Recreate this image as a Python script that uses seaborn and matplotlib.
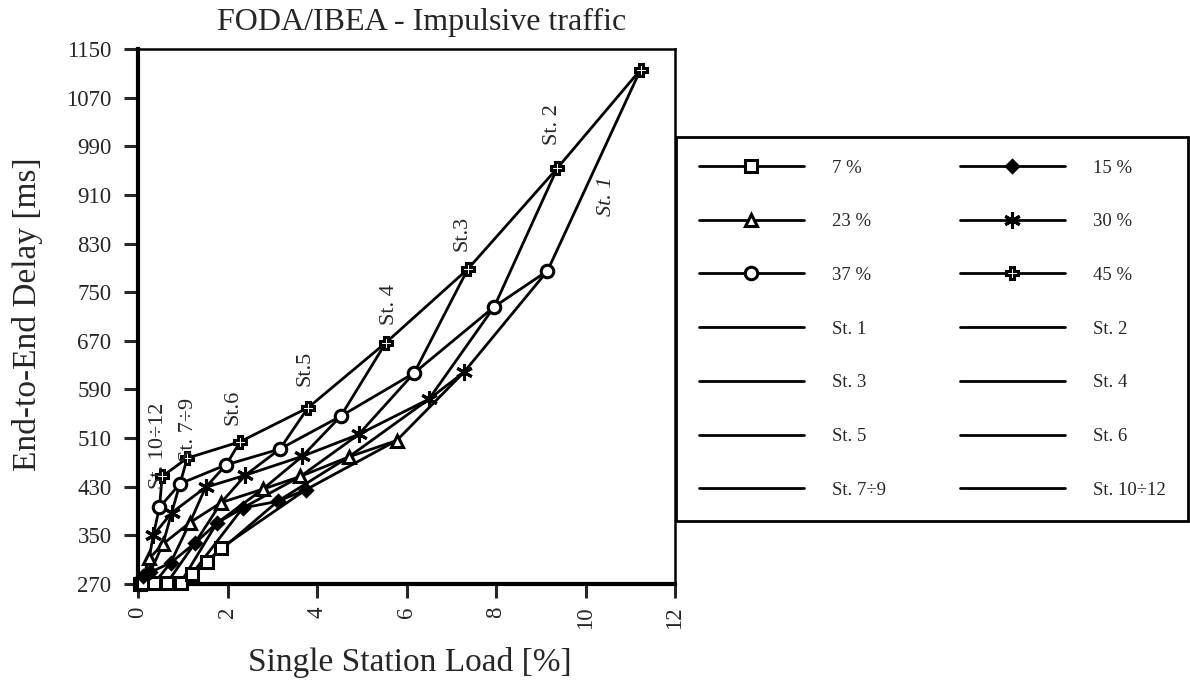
import pandas as pd
import seaborn as sns
import matplotlib.pyplot as plt

# Grupos de estaciones (mismo orden en todas las series)
estaciones = ['St. 1', 'St. 2', 'St. 3', 'St. 4', 'St. 5', 'St. 6', 'St. 7÷9', 'St. 10÷12']
cargas = ['7 %', '15 %', '23 %', '30 %', '37 %', '45 %']

# Carga por estacion [%] y retardo [ms] para cada carga total
x_07 = [1.85, 1.55, 1.20, 0.95, 0.65, 0.36, 0.12, 0.05]
y_07 = [329, 307, 286, 272, 272, 271, 271, 270]
x_15 = [3.75, 3.12, 2.34, 1.76, 1.27, 0.73, 0.27, 0.12]
y_15 = [425, 406, 395, 370, 337, 305, 289, 283]
x_23 = [5.78, 4.71, 3.63, 2.79, 1.86, 1.16, 0.56, 0.25]
y_23 = [506, 479, 447, 426, 404, 371, 336, 312]
x_30 = [7.28, 6.50, 4.93, 3.67, 2.40, 1.51, 0.75, 0.34]
y_30 = [618, 574, 516, 480, 449, 429, 387, 350]
x_37 = [9.15, 7.96, 6.17, 4.53, 3.17, 1.97, 0.94, 0.48]
y_37 = [785, 726, 617, 546, 492, 466, 435, 396]
x_45 = [11.23, 9.37, 7.37, 5.54, 3.80, 2.28, 1.10, 0.54]
y_45 = [1116, 954, 788, 667, 560, 504, 477, 447]

# Etiquetas sobre las curvas de estacion
etiquetas = ['St. 1', 'St. 2', 'St.3', 'St. 4', 'St.5', 'St.6', 'St. 7÷9', 'St. 10÷12']
etiq_x = [10.48, 9.27, 7.24, 5.61, 3.73, 2.12, 1.12, 0.45]
etiq_y = [908, 1025, 847, 729, 624, 561, 523, 498]

xs_all = [x_07, x_15, x_23, x_30, x_37, x_45]
ys_all = [y_07, y_15, y_23, y_30, y_37, y_45]
filas = []
for carga, xs, ys in zip(cargas, xs_all, ys_all):
    for est, x, y in zip(estaciones, xs, ys):
        filas.append((carga, est, x, y))
datos = pd.DataFrame(filas, columns=['carga', 'estacion', 'load', 'delay'])

sns.set_style('ticks')
plt.rcParams['font.family'] = ['Liberation Serif', 'DejaVu Serif']

fig = plt.figure(figsize=(11.9, 6.84), dpi=100)
ax = fig.add_axes([138 / 1190, 100 / 684, 537 / 1190, 535 / 684])

# curvas por estacion (solo linea)
for est in estaciones:
    sns.lineplot(data=datos[datos['estacion'] == est], x='load', y='delay',
                 estimator=None, color='black', lw=2, label=est, ax=ax, zorder=2)

# curvas por carga (con marcadores)
estilos = {
    '7 %': dict(marker='s', ms=8.5, mfc='white'),
    '15 %': dict(marker='D', ms=6.5, mfc='black'),
    '23 %': dict(marker='^', ms=9, mfc='white'),
    '30 %': dict(marker=(6, 2, 0), ms=12, mfc='black'),
    '37 %': dict(marker='o', ms=9, mfc='white'),
    '45 %': dict(marker='P', ms=8, mfc='white'),
}
for carga in cargas:
    sns.lineplot(data=datos[datos['carga'] == carga], x='load', y='delay',
                 estimator=None, color='black', lw=2, mec='black', mew=2.2,
                 label=carga, ax=ax, zorder=3, clip_on=False, **estilos[carga])

for t, x, y in zip(etiquetas, etiq_x, etiq_y):
    ax.text(x, y, t, rotation=90, ha='center', va='center', fontsize=16,
            style='italic' if t == 'St. 1' else 'normal')

ax.set_xlim(0, 12)
ax.set_ylim(270, 1150)
ax.set_xticks(range(0, 13, 2))
ax.set_yticks(range(270, 1151, 80))
ax.tick_params(axis='x', labelrotation=90, labelsize=16.5, length=10, width=2.2, pad=6, direction='out')
ax.tick_params(axis='y', labelsize=16.5, length=10, width=2.2, pad=9, direction='out')
for lado in ['left', 'bottom']:
    ax.spines[lado].set_linewidth(3)
for lado in ['top', 'right']:
    ax.spines[lado].set_linewidth(1.8)
for s in ax.spines.values():
    s.set_color('black')
ax.set_xlabel('')
ax.set_ylabel('')

fig.text(422 / 1190, 1 - 22 / 684, 'FODA/IBEA - Impulsive traffic', ha='center', va='center', fontsize=23)
fig.text(28 / 1190, 1 - 314 / 684, 'End-to-End Delay [ms]', rotation=90, ha='center', va='center', fontsize=24)
fig.text(410 / 1190, 1 - 662 / 684, 'Single Station Load [%]', ha='center', va='center', fontsize=24)

# leyenda en orden de filas
h, l = ax.get_legend_handles_labels()
por_nombre = dict(zip(l, h))
col1 = ['7 %', '23 %', '37 %', 'St. 1', 'St. 3', 'St. 5', 'St. 7÷9']
col2 = ['15 %', '30 %', '45 %', 'St. 2', 'St. 4', 'St. 6', 'St. 10÷12']
orden = col1 + col2
ley = ax.legend([por_nombre[n] for n in orden], orden, ncol=2, loc='upper left',
                bbox_to_anchor=(676 / 1190, 1 - 137 / 684, 512 / 1190, 0),
                bbox_transform=fig.transFigure, mode='expand', borderaxespad=0,
                fontsize=13.5, handlelength=5.6, handletextpad=1.5, labelspacing=1.95,
                borderpad=1.2, frameon=True, fancybox=False, edgecolor='black',
                framealpha=1)
ley.get_frame().set_linewidth(2)

plt.savefig('out.png', dpi=100)
plt.close()
